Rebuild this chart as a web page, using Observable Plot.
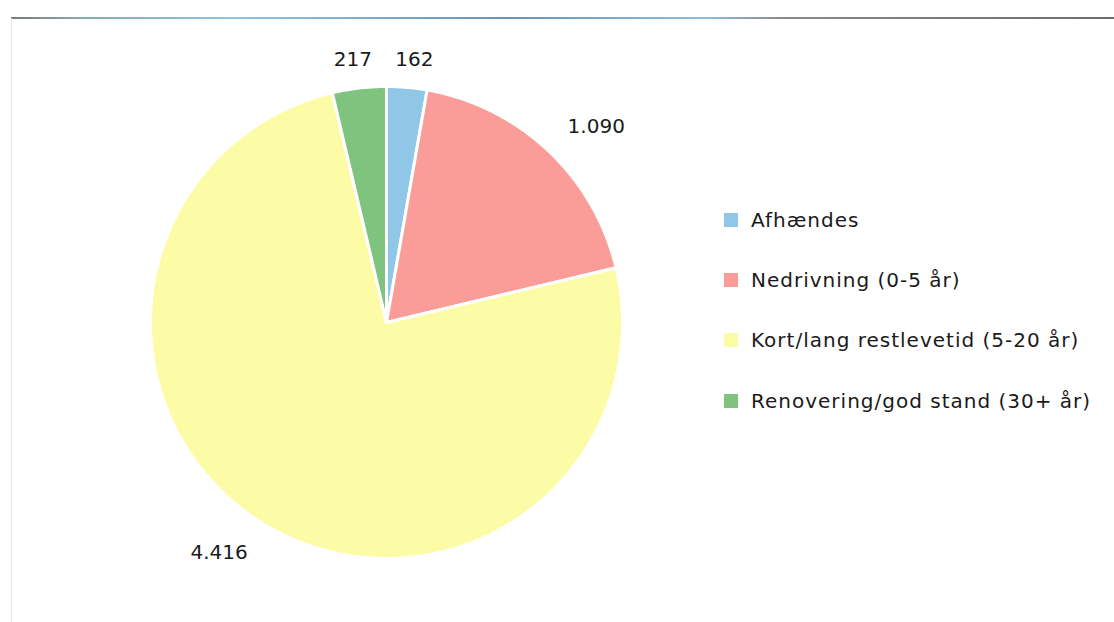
<!DOCTYPE html>
<html>
<head>
<meta charset="utf-8">
<script src="https://cdn.jsdelivr.net/npm/d3@7"></script>
<script src="https://cdn.jsdelivr.net/npm/@observablehq/plot@0.6"></script>
<style>
  html, body { margin: 0; padding: 0; background: #fff; }
  #wrap { position: relative; width: 1114px; height: 622px; overflow: hidden; font-family: "DejaVu Sans", Verdana, sans-serif; }
  #chart { position: absolute; left: 0; top: 0; }
  #topline { position: absolute; left: 11px; top: 17px; width: 1103px; height: 2px;
    background: linear-gradient(to right, #7a7a7a 0%, #8aa 6%, #8cc6e0 20%, #6a94b4 45%, #8cbfdc 63%, #8a8a8a 70%, #6d6d6d 100%); }
  #leftline { position: absolute; left: 11px; top: 18px; width: 1px; height: 604px; background: #e6e6e6; }
  #legend { position: absolute; left: 724px; top: 0; }
  .row { position: absolute; left: 0; height: 30px; line-height: 30px; white-space: nowrap; font-size: 20px; letter-spacing: 1px; color: #1a1a1a; }
  .sw { display: inline-block; width: 14px; height: 14px; vertical-align: middle; margin-right: 13px; position: relative; top: -2px; }
</style>
</head>
<body>
<div id="wrap">
  <div id="chart"></div>
  <div id="topline"></div>
  <div id="leftline"></div>
  <div id="legend"></div>
</div>
<script>
const categories = ["Afhændes", "Nedrivning (0-5 år)", "Kort/lang restlevetid (5-20 år)", "Renovering/god stand (30+ år)"];
const values = [162, 1090, 4416, 217];
const valueLabels = ["162", "1.090", "4.416", "217"];
const colors = ["#90c7e6", "#fa9d99", "#fdfca6", "#80c37f"];

const pie = d3.pie().sort(null).value(d => d.value)(
  categories.map((c, i) => ({category: c, value: values[i], label: valueLabels[i]}))
);

// outline points for each slice (unit circle, y up)
const slicePoints = [];
for (const s of pie) {
  const n = Math.max(4, Math.ceil((s.endAngle - s.startAngle) / 0.01));
  slicePoints.push({category: s.data.category, x: 0, y: 0});
  for (let k = 0; k <= n; k++) {
    const a = s.startAngle + (s.endAngle - s.startAngle) * k / n;
    slicePoints.push({category: s.data.category, x: Math.sin(a), y: Math.cos(a)});
  }
}

const labelR = 1.12;
const labelData = pie.map(s => {
  const a = (s.startAngle + s.endAngle) / 2;
  return {text: s.data.label, x: labelR * Math.sin(a), y: labelR * Math.cos(a), s: Math.sin(a)};
});

const W = 1114, H = 622, cx = 386, cy = 322, R = 236;

const chart = Plot.plot({
  width: W,
  height: H,
  margin: 0,
  style: {background: "transparent", fontFamily: "DejaVu Sans, Verdana, sans-serif"},
  x: {domain: [-cx / R, (W - cx) / R], axis: null},
  y: {domain: [-(H - cy) / R, cy / R], axis: null},
  color: {domain: categories, range: colors},
  marks: [
    Plot.line(slicePoints, {x: "x", y: "y", z: "category", fill: "category", stroke: "white", strokeWidth: 3, strokeLinejoin: "round", curve: "linear-closed"}),
    Plot.text(labelData.filter(d => d.s >= 0 && d.s < 0.3), {x: "x", y: "y", text: "text", fontSize: 20, fill: "#1a1a1a", textAnchor: "middle", dx: 5}),
    Plot.text(labelData.filter(d => d.s < 0 && d.s > -0.3), {x: "x", y: "y", text: "text", fontSize: 20, fill: "#1a1a1a", textAnchor: "middle", dx: -3}),
    Plot.text(labelData.filter(d => d.s >= 0.3), {x: "x", y: "y", text: "text", fontSize: 20, fill: "#1a1a1a", textAnchor: "start", dy: -3}),
    Plot.text(labelData.filter(d => d.s <= -0.3), {x: "x", y: "y", text: "text", fontSize: 20, fill: "#1a1a1a", textAnchor: "end", dy: 5})
  ]
});
document.getElementById("chart").appendChild(chart);

const legend = document.getElementById("legend");
const rowTops = [205, 265, 325, 386];
categories.forEach((c, i) => {
  const row = document.createElement("div");
  row.className = "row";
  row.style.top = rowTops[i] + "px";
  const sw = document.createElement("span");
  sw.className = "sw";
  sw.style.background = colors[i];
  row.appendChild(sw);
  row.appendChild(document.createTextNode(c));
  legend.appendChild(row);
});
</script>
</body>
</html>
